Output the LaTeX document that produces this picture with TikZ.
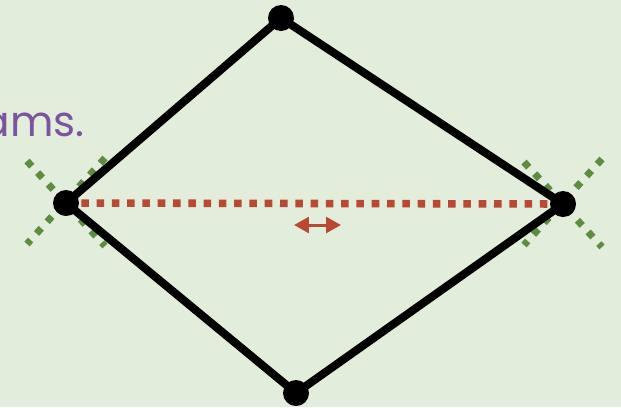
\documentclass[tikz,border=0pt]{standalone}
\usepackage{fontspec}
\setmainfont{Poppins}
\usetikzlibrary{arrows.meta,calc}

\definecolor{paper}{HTML}{E3EDDB}
\definecolor{textpurple}{HTML}{7B539F}
\definecolor{cutred}{HTML}{B84A34}
\definecolor{crossgreen}{HTML}{5E8C40}

\tikzset{
  dot/.style={circle, fill=black, inner sep=0pt, minimum size=0.52cm},
  edge/.style={black, line width=4.6pt},
  cutline/.style={cutred, line width=4.3pt, dash pattern=on 4.3pt off 4.4pt},
  crossline/.style={crossgreen, line width=4pt, dash pattern=on 4pt off 5pt},
  swap/.style={cutred, line width=1.7pt, {Triangle[length=8.5pt,width=9pt]}-{Triangle[length=8.5pt,width=9pt]}}
}

\begin{document}
\begin{tikzpicture}[x=0.02cm, y=-0.02cm]
  % Background and bounding box
  \fill[paper] (0,0) rectangle (621,407);
  \useasboundingbox (0,0) rectangle (621,407);

  % Corner positions
  \coordinate (T) at (281,18);
  \coordinate (L) at (66,203);
  \coordinate (R) at (563,204);
  \coordinate (B) at (296,393);

  % Caption fragment
  \node[textpurple, font=\fontsize{24}{28}\selectfont, anchor=base east, inner sep=0pt] (caption) at (85,136) {ams.};

  % Green crosses at the side corners
  \foreach \c in {L,R} {
    \coordinate (\c-nw) at ($(\c)+(-39,-42)$);
    \coordinate (\c-se) at ($(\c)+(39,43)$);
    \coordinate (\c-ne) at ($(\c)+(39,-45)$);
    \coordinate (\c-sw) at ($(\c)+(-39,41)$);
    \draw[crossline] (\c-nw) -- (\c-se);
    \draw[crossline] (\c-ne) -- (\c-sw);
  }

  % Diamond edges
  \draw[edge] (L) -- (T) -- (R) -- (B) -- (L);

  % Red dotted diagonal
  \draw[cutline] (L) -- (R);

  % Small double arrow
  \coordinate (a1) at (294,225);
  \coordinate (a2) at (341,225);
  \draw[swap] (a1) -- (a2);

  % Corner dots
  \node[dot] (top) at (T) {};
  \node[dot] (left) at (L) {};
  \node[dot] (right) at (R) {};
  \node[dot] (bottom) at (B) {};
\end{tikzpicture}
\end{document}
